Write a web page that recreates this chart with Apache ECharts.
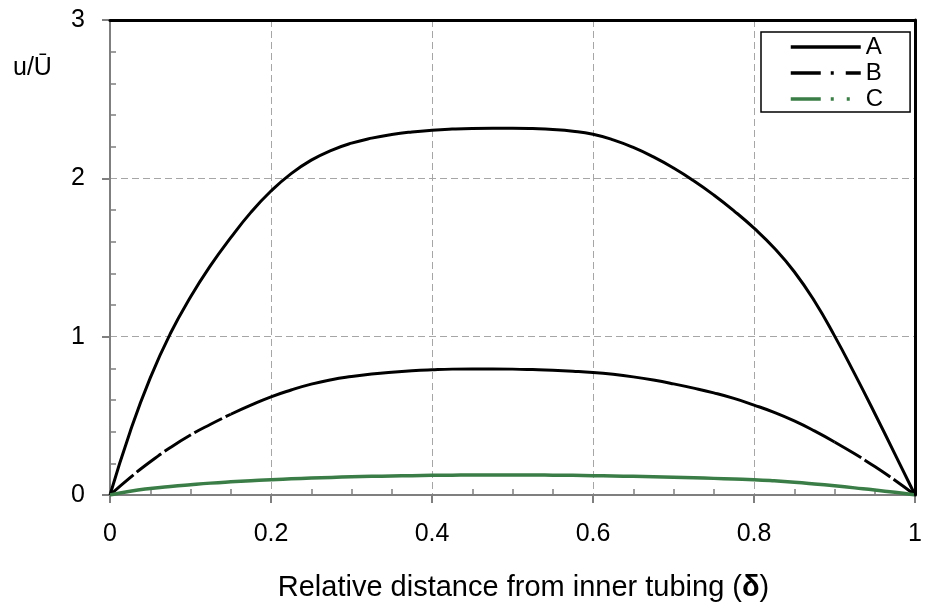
<!DOCTYPE html>
<html>
<head>
<meta charset="utf-8">
<script src="https://cdn.jsdelivr.net/npm/echarts@6/dist/echarts.min.js"></script>
<style>
  html, body { margin: 0; padding: 0; background: #fff; }
  #chart { width: 925px; height: 607px; }
</style>
</head>
<body>
<div id="chart"></div>
<script>
// Relative distance from inner tubing (delta) at which each profile is sampled
const delta = [0, 0.025, 0.05, 0.075, 0.1, 0.125, 0.15, 0.175, 0.2, 0.225, 0.25, 0.275,
               0.3, 0.325, 0.35, 0.375, 0.4, 0.425, 0.45, 0.475, 0.5, 0.525, 0.55, 0.575,
               0.6, 0.625, 0.65, 0.675, 0.7, 0.725, 0.75, 0.775, 0.8, 0.825, 0.85, 0.875,
               0.9, 0.925, 0.95, 0.975, 1];

// Normalised velocity u/U-bar for each case
const velA = [0, 0.40, 0.74, 1.02, 1.25, 1.45, 1.625, 1.785, 1.92, 2.03, 2.115, 2.177,
              2.222, 2.254, 2.277, 2.293, 2.304, 2.311, 2.315, 2.316, 2.316, 2.314, 2.309, 2.298,
              2.278, 2.243, 2.195, 2.135, 2.065, 1.985, 1.895, 1.795, 1.685, 1.56, 1.41, 1.225,
              1.005, 0.765, 0.515, 0.258, 0];
const velB = [0, 0.11, 0.21, 0.30, 0.379, 0.447, 0.51, 0.567, 0.62, 0.663, 0.70, 0.728,
              0.748, 0.764, 0.776, 0.785, 0.791, 0.795, 0.796, 0.796, 0.795, 0.792, 0.788, 0.782,
              0.774, 0.762, 0.746, 0.726, 0.702, 0.675, 0.645, 0.61, 0.568, 0.522, 0.468, 0.405,
              0.335, 0.26, 0.18, 0.093, 0];
const velC = [0, 0.024, 0.041, 0.054, 0.065, 0.075, 0.083, 0.09, 0.097, 0.102, 0.107, 0.111,
              0.115, 0.118, 0.12, 0.122, 0.124, 0.125, 0.126, 0.126, 0.126, 0.126, 0.125, 0.124,
              0.122, 0.12, 0.118, 0.115, 0.112, 0.109, 0.105, 0.101, 0.097, 0.09, 0.081, 0.07,
              0.058, 0.045, 0.032, 0.017, 0];

const seriesNames = ['A', 'B', 'C'];
const yTitle = 'u/Ū';
const xTitle = 'Relative distance from inner tubing ({b|δ})';

const FONT = "'Liberation Sans', Arial, sans-serif";
const GREEN = '#3b7d46';
const NONE = 'rgba(0,0,0,0)';

const pairs = (vals, lo, hi) =>
  delta.map((d, i) => [d, vals[i]]).filter(p => p[0] >= lo && p[0] <= hi);

const baseLine = (name, data, color, type, width) => ({
  name: name,
  type: 'line',
  data: data,
  showSymbol: false,
  symbol: 'none',
  smooth: 0.5,
  lineStyle: { color: color, width: width || 3, type: type, cap: 'butt', join: 'round' },
  itemStyle: { color: color },
  silent: true,
  animation: false,
  z: 3
});

// bare axis carrying only a line (frame) or only minor ticks
const frameAxis = (position, min, max, interval) => ({
  type: 'value', min: min, max: max, interval: interval, position: position,
  axisLine: { show: true, onZero: false, lineStyle: { color: '#000', width: 3 } },
  axisTick: { show: false }, axisLabel: { show: false }, splitLine: { show: false }, z: 4
});
const minorAxis = (position, min, max, interval, split) => ({
  type: 'value', min: min, max: max, interval: interval, position: position,
  axisLine: { show: false },
  axisTick: { show: false, inside: true },
  minorTick: { show: true, splitNumber: split, length: 6, lineStyle: { color: '#7f7f7f', width: 1.5 } },
  axisLabel: { show: false }, splitLine: { show: false }
});

const chart = echarts.init(document.getElementById('chart'), null, { renderer: 'canvas' });

chart.setOption({
  animation: false,
  textStyle: { fontFamily: FONT },
  grid: { left: 110, right: 5, top: 20, bottom: 110 },
  legend: {
    left: 761, top: 32,
    orient: 'vertical',
    itemWidth: 70, itemHeight: 14, itemGap: 2,
    padding: [3, 27, 1, 28],
    borderColor: '#000', borderWidth: 1.5,
    backgroundColor: '#fff',
    selectedMode: false,
    itemStyle: { color: NONE, borderColor: NONE, borderWidth: 0 },
    textStyle: { fontSize: 24, color: '#000', fontFamily: FONT },
    data: [
      { name: seriesNames[0], lineStyle: { width: 3.5, type: 'solid' } },
      { name: seriesNames[1], lineStyle: { width: 3.5, type: [30, 10, 3, 12] } },
      { name: seriesNames[2], lineStyle: { width: 3.5, type: [30, 10, 3, 13, 3, 13] } }
    ]
  },
  xAxis: [
    {
      type: 'value', min: 0, max: 1, interval: 0.2,
      name: xTitle, nameLocation: 'middle', nameGap: 78,
      nameTextStyle: { fontSize: 29, color: '#000', fontFamily: FONT, padding: [0, 0, 0, 22],
        rich: { b: { fontSize: 29, fontWeight: 'bold', fontFamily: FONT } } },
      axisLine: { show: true, lineStyle: { color: '#7f7f7f', width: 2 } },
      axisTick: { show: true, inside: false, length: 8, lineStyle: { color: '#7f7f7f', width: 2 } },
      axisLabel: { fontSize: 25, color: '#000', margin: 27, fontFamily: FONT },
      splitLine: { show: true, lineStyle: { color: '#a6a6a6', width: 1, type: [7, 4] } }
    },
    minorAxis('bottom', 0, 1, 0.2, 4),
    frameAxis('top', 0, 1, 0.2)
  ],
  yAxis: [
    {
      type: 'value', min: 0, max: 3, interval: 1,
      axisLine: { show: true, lineStyle: { color: '#7f7f7f', width: 2 } },
      axisTick: { show: true, inside: false, length: 8, lineStyle: { color: '#7f7f7f', width: 2 } },
      axisLabel: { fontSize: 25, color: '#000', margin: 25, fontFamily: FONT },
      splitLine: { show: true, lineStyle: { color: '#a6a6a6', width: 1, type: [7, 4] } }
    },
    minorAxis('left', 0, 3, 1, 5),
    frameAxis('right', 0, 3, 1)
  ],
  graphic: [
    {
      type: 'text', left: 13, top: 56, silent: true,
      style: { text: yTitle, fontSize: 25, fill: '#000', fontFamily: FONT }
    }
  ],
  series: [
    baseLine(seriesNames[0], pairs(velA, 0, 1), '#000', 'solid'),
    // B: broken near both walls, continuous through the core
    baseLine(seriesNames[1], pairs(velB, 0, 0.15), '#000', [31, 4]),
    baseLine(seriesNames[1], pairs(velB, 0.15, 0.9), '#000', 'solid'),
    baseLine(seriesNames[1], pairs(velB, 0.9, 1), '#000', [31, 4]),
    baseLine(seriesNames[2], pairs(velC, 0, 1), GREEN, 'solid', 3.5)
  ]
});
</script>
</body>
</html>
